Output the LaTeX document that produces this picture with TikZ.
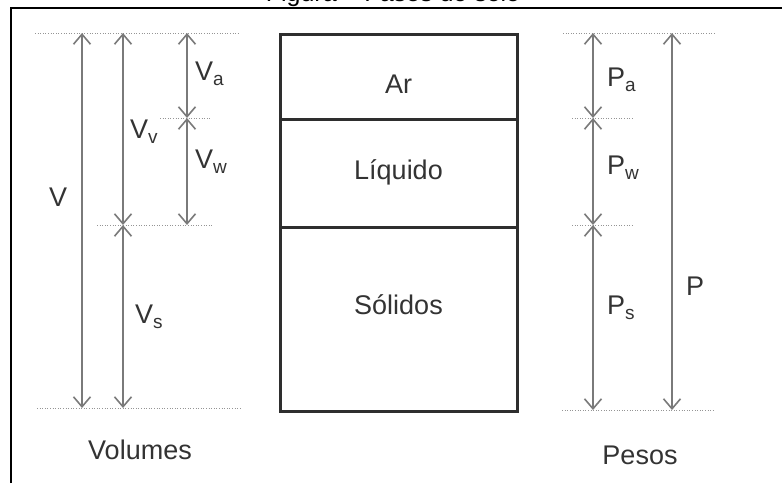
\documentclass[tikz,border=0pt]{standalone}
\usepackage{fontspec}
\setmainfont{Liberation Sans}
\usetikzlibrary{arrows.meta}
\definecolor{ink}{HTML}{333333}
\definecolor{dimgray}{HTML}{7A7A7A}
\definecolor{boxline}{HTML}{2E2E2E}
\newcommand{\sublbl}[2]{#1\raisebox{-5pt}{\fontsize{19}{19}\selectfont #2}}
\begin{document}
\begin{tikzpicture}[x=1pt,y=-1pt,
  tip/.tip={Straight Barb[length=10pt,width=17pt]},
  dim/.style={draw=dimgray, line width=1.6pt, tip-tip},
  guide/.style={draw=dimgray!80, line width=1pt, dash pattern=on 1pt off 1.6pt},
  phase/.style={draw=boxline, line width=3pt, minimum width=237pt, inner sep=0pt, anchor=north},
  txt/.style={text=ink, font=\fontsize{27}{30}\selectfont, inner sep=0pt},
  caption/.style={text=ink, font=\fontsize{27}{30}\selectfont, inner sep=0pt}]
\useasboundingbox (0,0) rectangle (782,483);

% outer frame and heading above it
\node[text=black, font=\fontsize{25}{28}\selectfont, anchor=base] (title) at (393,1) {Figura – Fases do solo};
\draw[line width=2.5pt] (11,483) -- (11,8) -- (790,8);

% soil phases
\node[phase, minimum height=85pt] (ar) at (398.5,33) {};
\node[phase, minimum height=108pt] (liq) at (398.5,118) {};
\node[phase, minimum height=184pt] (sol) at (398.5,226) {};
\node[txt] (tar) at (398.5,84) {Ar};
\node[txt] (tliq) at (398.5,172) {Líquido};
\node[txt] (tsol) at (398.5,305) {Sólidos};

% volume levels
\coordinate (vtopL) at (35,33);  \coordinate (vtopR) at (240,33);
\coordinate (vaL) at (160,118);  \coordinate (vaR) at (212,118);
\coordinate (vvL) at (97,225);   \coordinate (vvR) at (212,225);
\coordinate (vbotL) at (37,408); \coordinate (vbotR) at (240,408);
\draw[guide] (vtopL) -- (vtopR);
\draw[guide] (vaL) -- (vaR);
\draw[guide] (vvL) -- (vvR);
\draw[guide] (vbotL) -- (vbotR);

\coordinate (V1) at (82,33);   \coordinate (V2) at (82,408);
\coordinate (Vv1) at (123,33); \coordinate (Vv2) at (123,225);
\coordinate (Vs2) at (123,408);
\coordinate (Va1) at (187,33); \coordinate (Va2) at (187,118);
\coordinate (Vw2) at (187,225);
\draw[dim] (V1) -- (V2);
\draw[dim] (Vv1) -- (Vv2);
\draw[dim] (Vv2) -- (Vs2);
\draw[dim] (Va1) -- (Va2);
\draw[dim] (Va2) -- (Vw2);

\node[txt, anchor=west] (lV) at (49,197) {V};
\node[txt, anchor=west] (lVv) at (130,132) {\sublbl{V}{v}};
\node[txt, anchor=west] (lVa) at (195,74) {\sublbl{V}{a}};
\node[txt, anchor=west] (lVw) at (195,162) {\sublbl{V}{w}};
\node[txt, anchor=west] (lVs) at (135,317) {\sublbl{V}{s}};
\node[caption] (volumes) at (140,450) {Volumes};

% weight levels
\coordinate (ptopL) at (563,33);  \coordinate (ptopR) at (715,33);
\coordinate (paL) at (572,118);   \coordinate (paR) at (633,118);
\coordinate (pwL) at (572,225);   \coordinate (pwR) at (633,225);
\coordinate (pbotL) at (562,410); \coordinate (pbotR) at (715,410);
\draw[guide] (ptopL) -- (ptopR);
\draw[guide] (paL) -- (paR);
\draw[guide] (pwL) -- (pwR);
\draw[guide] (pbotL) -- (pbotR);

\coordinate (Pa1) at (593,33); \coordinate (Pa2) at (593,118);
\coordinate (Pw2) at (593,225); \coordinate (Ps2) at (593,410);
\coordinate (P1) at (672,33);  \coordinate (P2) at (672,410);
\draw[dim] (Pa1) -- (Pa2);
\draw[dim] (Pa2) -- (Pw2);
\draw[dim] (Pw2) -- (Ps2);
\draw[dim] (P1) -- (P2);

\node[txt, anchor=west] (lPa) at (607,80) {\sublbl{P}{a}};
\node[txt, anchor=west] (lPw) at (607,168) {\sublbl{P}{w}};
\node[txt, anchor=west] (lPs) at (607,308) {\sublbl{P}{s}};
\node[txt, anchor=west] (lP) at (686,286) {P};
\node[caption] (pesos) at (640,455) {Pesos};
\end{tikzpicture}
\end{document}
